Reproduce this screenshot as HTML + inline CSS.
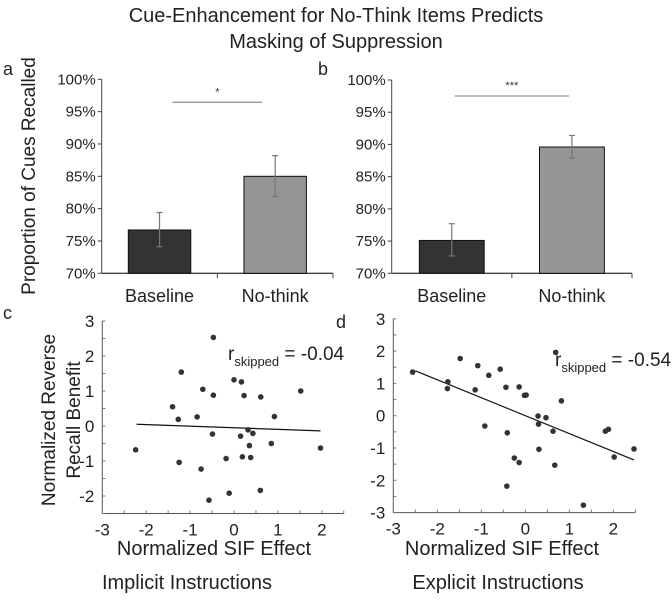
<!DOCTYPE html>
<html><head><meta charset="utf-8"><style>
body{margin:0;background:#fff;}
svg{display:block;font-family:"Liberation Sans",sans-serif;}
</style></head><body>
<svg id="fig" width="672" height="605" viewBox="0 0 672 605">
<text x="336" y="22" font-size="20" text-anchor="middle" fill="#222">Cue-Enhancement for No-Think Items Predicts</text>
<text x="336" y="48" font-size="20" text-anchor="middle" fill="#222">Masking of Suppression</text>
<text x="3" y="75" font-size="18" fill="#222">a</text>
<text x="318" y="75" font-size="18" fill="#222">b</text>
<text x="3" y="319" font-size="18" fill="#222">c</text>
<text x="336" y="328" font-size="18" fill="#222">d</text>
<text transform="translate(35,176) rotate(-90)" font-size="19" text-anchor="middle" fill="#222">Proportion of Cues Recalled</text>
<text transform="translate(55,420) rotate(-90)" font-size="19" text-anchor="middle" fill="#222">Normalized Reverse</text>
<text transform="translate(80,420) rotate(-90)" font-size="19" text-anchor="middle" fill="#222">Recall Benefit</text>
<text x="214" y="555" font-size="20" text-anchor="middle" fill="#222">Normalized SIF Effect</text>
<text x="502" y="555" font-size="20" text-anchor="middle" fill="#222">Normalized SIF Effect</text>
<text x="187" y="589" font-size="20" text-anchor="middle" fill="#222">Implicit Instructions</text>
<text x="498" y="589" font-size="20" text-anchor="middle" fill="#222">Explicit Instructions</text>
<g id="pa"></g><g id="pb"></g><g id="pc"></g><g id="pd"></g>
</svg>
<script>
const barCategories = ["Baseline", "No-think"];
const barTicks = [70, 75, 80, 85, 90, 95, 100];
const aValues = [76.7, 85.0];
const aErrLow = [74.1, 81.9];
const aErrHigh = [79.4, 88.2];
const aSig = "*";
const bValues = [75.1, 89.6];
const bErrLow = [72.7, 87.9];
const bErrHigh = [77.7, 91.4];
const bSig = "***";

const scatterYTicksC = [-2, -1, 0, 1, 2, 3];
const scatterYTicksD = [-3, -2, -1, 0, 1, 2, 3];
const scatterXTicks = [-3, -2, -1, 0, 1, 2];
const cX = [-0.47,-1.2,0,0.17,-0.71,1.52,-0.47,0.23,0.61,-1.4,-0.84,0.92,-1.27,0.32,0.43,-0.49,0.15,0.35,0.85,-2.24,1.97,0.19,0.38,-0.18,-1.25,-0.75,0.6,-0.11,-0.57];
const cY = [2.53,1.54,1.32,1.26,1.05,1.0,0.88,0.87,0.83,0.55,0.26,0.27,0.19,-0.11,-0.21,-0.23,-0.29,-0.56,-0.5,-0.68,-0.63,-0.88,-0.9,-0.93,-1.04,-1.23,-1.84,-1.92,-2.12];
const cFitX = [-2.22, 1.97];
const cFitY = [0.05, -0.14];
const cR = "-0.04";
const dX = [-2.56,-1.76,-1.77,-1.48,-1.08,-1.14,-0.83,-0.57,-0.44,-0.14,-0.02,0.02,0.69,0.82,-0.92,-0.41,0.29,0.47,0.3,0.63,0.31,-0.25,-0.14,0.67,-0.42,1.82,1.89,2.02,2.47,1.32];
const dY = [1.35,1.05,0.84,1.77,1.55,0.8,1.25,1.44,0.88,0.89,0.63,0.64,1.96,0.46,-0.32,-0.53,-0.01,-0.06,-0.26,-0.48,-1.04,-1.31,-1.45,-1.53,-2.18,-0.48,-0.42,-1.28,-1.03,-2.77];
const dFitX = [-2.5, 2.47];
const dFitY = [1.39, -1.37];
const dR = "-0.54";

const NS = "http://www.w3.org/2000/svg";
function mk(parent, tag, attrs, text) {
  const e = document.createElementNS(NS, tag);
  for (const k in attrs) e.setAttribute(k, attrs[k]);
  if (text !== undefined) e.textContent = text;
  parent.appendChild(e);
  return e;
}

function barPanel(g, cfg, vals, lo, hi, sig, name) {
  const y = v => cfg.y70 + (v - 70) / 30 * (cfg.y100 - cfg.y70);
  let e = mk(g, "line", {x1: cfg.ax, x2: cfg.ax, y1: y(100), y2: y(70), stroke: "#444", "stroke-width": 1});
  
  
  e = mk(g, "line", {x1: cfg.ax, x2: cfg.xEnd, y1: y(70), y2: y(70), stroke: "#444", "stroke-width": 1.3});
  
  
  barTicks.forEach(t => {
    mk(g, "line", {x1: cfg.ax - 4, x2: cfg.ax, y1: y(t), y2: y(t), stroke: "#444"});
    const tx = mk(g, "text", {x: cfg.ax - 6, y: y(t) + 5, "font-size": 15, "text-anchor": "end", fill: "#222"}, t + "%");
    
    
  });
  const slot = (cfg.xEnd - cfg.ax) / barCategories.length;
  for (let i = 1; i <= barCategories.length; i++) {
    mk(g, "line", {x1: cfg.ax + slot * i, x2: cfg.ax + slot * i, y1: y(70), y2: y(70) + 5, stroke: "#444"});
  }
  const bw = slot * 0.54;
  const fills = ["#333333", "#959595"];
  vals.forEach((v, i) => {
    const cx = cfg.ax + slot * (i + 0.5);
    const r = mk(g, "rect", {x: cx - bw / 2, y: y(v), width: bw, height: y(70) - y(v), fill: fills[i], stroke: "#111", "stroke-width": 1});
    
    
    const eb = mk(g, "path", {d: `M${cx},${y(lo[i])}V${y(hi[i])}M${cx-3},${y(lo[i])}H${cx+3}M${cx-3},${y(hi[i])}H${cx+3}`, stroke: "#777", "stroke-width": 1.2, fill: "none"});
    
    
    const lb = mk(g, "text", {x: cx, y: 302, "font-size": 18, "text-anchor": "middle", fill: "#222"}, barCategories[i]);
    
    
  });
  const c0 = cfg.ax + slot * 0.5, c1 = cfg.ax + slot * 1.5;
  e = mk(g, "line", {x1: c0 + cfg.sigInset, x2: c1 - cfg.sigInset, y1: cfg.sigY, y2: cfg.sigY, stroke: "#999", "stroke-width": 1.3});
  
  
  e = mk(g, "text", {x: (c0 + c1) / 2, y: cfg.sigY - 7, "font-size": 11, "text-anchor": "middle", fill: "#333"}, sig);
  
  
}
barPanel(document.getElementById("pa"), {ax: 101.7, xEnd: 333, y70: 273.3, y100: 79.3, sigY: 102.3, sigInset: 13}, aValues, aErrLow, aErrHigh, aSig, "panel-a");
barPanel(document.getElementById("pb"), {ax: 391.7, xEnd: 632, y70: 273.3, y100: 80, sigY: 96, sigInset: 3}, bValues, bErrLow, bErrHigh, bSig, "panel-b");

function scatter(g, cfg, xs, ys, fx, fy, yTicks, r, name) {
  const X = v => cfg.x0 + (v - (-3)) * cfg.xu;
  const Y = v => cfg.y0 - v * cfg.yu;
  let e = mk(g, "line", {x1: X(-3), x2: X(-3), y1: Y(3), y2: Y(cfg.yMin), stroke: "#555"});
  
  
  e = mk(g, "line", {x1: X(-3), x2: X(2.5), y1: Y(cfg.yMin), y2: Y(cfg.yMin), stroke: "#555"});
  
  
  for (let v = cfg.yMin; v <= 3.001; v += 0.5) mk(g, "line", {x1: X(-3), x2: X(-3) + 3, y1: Y(v), y2: Y(v), stroke: "#777"});
  for (let v = -3; v <= 2.501; v += 0.5) mk(g, "line", {x1: X(v), x2: X(v), y1: Y(cfg.yMin), y2: Y(cfg.yMin) - 3, stroke: "#777"});
  yTicks.forEach(t => {
    const tx = mk(g, "text", {x: X(-3) - 8, y: Y(t) + 6, "font-size": 17, "text-anchor": "end", fill: "#222"}, t);
    
    
  });
  scatterXTicks.forEach(t => {
    const tx = mk(g, "text", {x: X(t), y: Y(cfg.yMin) + 22, "font-size": 17, "text-anchor": "middle", fill: "#222"}, t);
    
    
  });
  e = mk(g, "line", {x1: X(fx[0]), x2: X(fx[1]), y1: Y(fy[0]), y2: Y(fy[1]), stroke: "#111", "stroke-width": 1.2});
  
  
  xs.forEach((v, i) => {
    const c = mk(g, "circle", {cx: X(v), cy: Y(ys[i]), r: 2.8, fill: "#333"});
    
    
  });
  const t = mk(g, "text", {x: cfg.rx, y: cfg.ry, "font-size": 19, fill: "#222"});
  
  
  mk(t, "tspan", {}, "r");
  mk(t, "tspan", {"font-size": 13, dy: 6}, "skipped");
  mk(t, "tspan", {dy: -6}, " = " + r);
}
scatter(document.getElementById("pc"), {x0: 102.3, xu: 43.9, y0: 426, yu: 35, yMin: -2.5, rx: 228, ry: 360}, cX, cY, cFitX, cFitY, scatterYTicksC, cR, "panel-c");
scatter(document.getElementById("pd"), {x0: 393.3, xu: 44, y0: 415.7, yu: 32.3, yMin: -3, rx: 555, ry: 366}, dX, dY, dFitX, dFitY, scatterYTicksD, dR, "panel-d");
</script>
</body></html>
